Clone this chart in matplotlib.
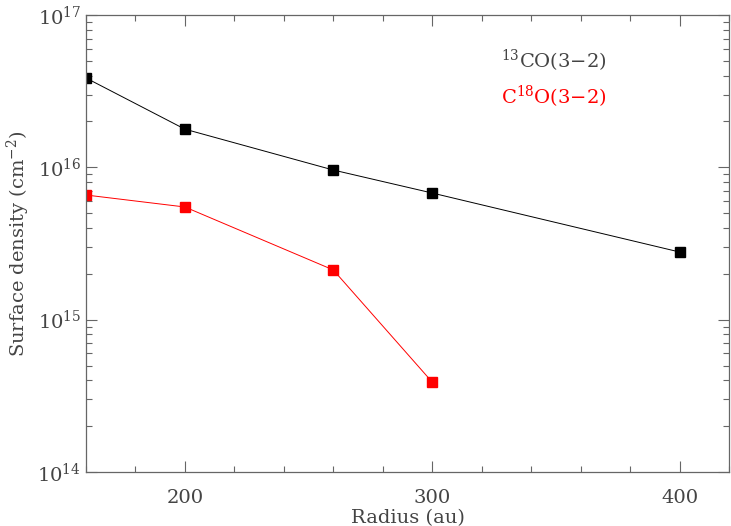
import matplotlib
matplotlib.use("Agg")
import matplotlib.pyplot as plt
from matplotlib.ticker import MultipleLocator, LogLocator

plt.rcParams['font.family'] = 'DejaVu Serif'
plt.rcParams['mathtext.fontset'] = 'dejavuserif'

radius_13co = [160, 200, 260, 300, 400]
sigma_13co = [3.86e16, 1.78e16, 9.6e15, 6.78e15, 2.78e15]

radius_c18o = [160, 200, 260, 300]
sigma_c18o = [6.58e15, 5.49e15, 2.12e15, 3.89e14]

text_col = '#444444'
axis_col = '#666666'

fig = plt.figure(figsize=(7.31, 5.26), dpi=100)
ax = fig.add_axes([0.1176, 0.1027, 0.8797, 0.8688])

ax.plot(radius_13co, sigma_13co, color='black', lw=0.7, marker='s', ms=7, mec='black', mfc='black')
ax.plot(radius_c18o, sigma_c18o, color='red', lw=0.7, marker='s', ms=7, mec='red', mfc='red')

ax.set_yscale('log')
ax.set_xlim(160, 420)
ax.set_ylim(1e14, 1e17)

ax.xaxis.set_major_locator(MultipleLocator(100))
ax.xaxis.set_minor_locator(MultipleLocator(20))
ax.yaxis.set_major_locator(LogLocator(base=10, numticks=10))
ax.yaxis.set_minor_locator(LogLocator(base=10, subs=range(2, 10), numticks=10))

ax.tick_params(which='both', direction='in', top=True, right=True, colors=axis_col,
               labelcolor=text_col, labelsize=14)
ax.tick_params(which='major', length=8, width=0.8)
ax.tick_params(which='minor', length=4, width=0.8)
ax.tick_params(axis='x', pad=12)
for s in ax.spines.values():
    s.set_color(axis_col)
    s.set_linewidth(0.9)

ax.set_xlabel('Radius (au)', fontsize=14, color=text_col, labelpad=2)
ax.set_ylabel(r'Surface density (cm$^{-2}$)', fontsize=14, color=text_col, labelpad=4)

ax.text(0.645, 0.90, r'$^{13}$CO(3$-$2)', transform=ax.transAxes, fontsize=14,
        color=text_col, va='center')
ax.text(0.645, 0.82, r'C$^{18}$O(3$-$2)', transform=ax.transAxes, fontsize=14,
        color='red', va='center')

fig.savefig('out.png', dpi=100)
